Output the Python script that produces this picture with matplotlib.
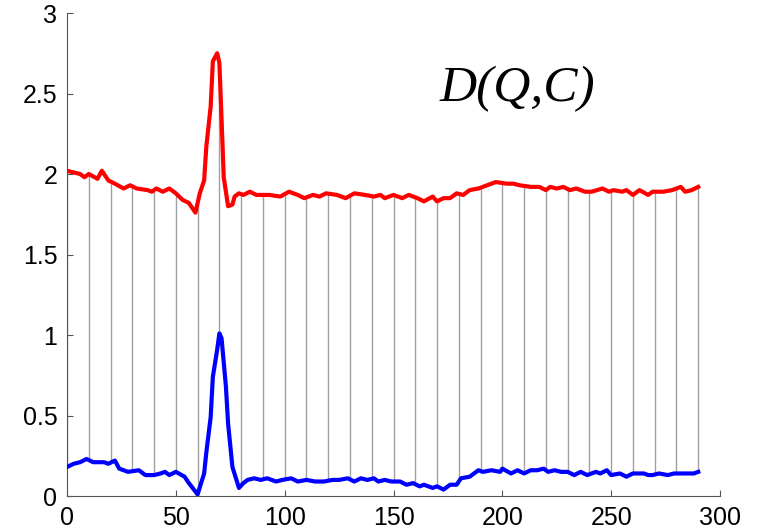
import matplotlib
matplotlib.use("Agg")
import matplotlib.pyplot as plt
import numpy as np

# upper series (red)
red_x = [0, 6, 8, 10, 14, 16, 19, 22, 26, 29, 32, 37, 39, 41, 44, 47, 50, 53, 56,
         59, 61, 63, 64, 66, 67, 69, 70, 71, 72, 74, 76, 77, 79, 81, 84, 87, 90,
         93, 98, 102, 106, 109, 113, 116, 119, 124, 128, 132, 137, 141, 144, 146,
         150, 154, 157, 161, 164, 168, 170, 173, 176, 179, 182, 185, 189, 193,
         197, 202, 205, 208, 213, 217, 220, 222, 225, 228, 231, 234, 238, 241,
         246, 249, 251, 255, 257, 260, 263, 267, 269, 274, 278, 282, 284, 287, 290]
red_y = [2.02, 2.00, 1.98, 2.00, 1.97, 2.02, 1.96, 1.94, 1.91, 1.93, 1.91, 1.90, 1.89,
         1.91, 1.89, 1.91, 1.88, 1.84, 1.82, 1.76, 1.88, 1.96, 2.17, 2.42, 2.70,
         2.75, 2.69, 2.34, 1.98, 1.80, 1.81, 1.86, 1.88, 1.87, 1.89, 1.87, 1.87,
         1.87, 1.86, 1.89, 1.87, 1.85, 1.87, 1.86, 1.88, 1.87, 1.85, 1.88, 1.87,
         1.86, 1.87, 1.85, 1.87, 1.85, 1.87, 1.85, 1.83, 1.86, 1.83, 1.85, 1.85,
         1.88, 1.87, 1.90, 1.91, 1.93, 1.95, 1.94, 1.94, 1.93, 1.92, 1.92, 1.90,
         1.92, 1.91, 1.92, 1.90, 1.91, 1.89, 1.89, 1.91, 1.89, 1.90, 1.89, 1.90,
         1.87, 1.90, 1.87, 1.89, 1.89, 1.90, 1.92, 1.89, 1.90, 1.92]

# lower series (blue)
blue_x = [0, 3, 6, 9, 12, 17, 19, 22, 24, 28, 33, 36, 40, 43, 45, 47, 50, 54, 56,
          60, 63, 64, 66, 67, 69, 70, 71, 73, 74, 76, 79, 81, 83, 86, 89, 92,
          96, 99, 103, 106, 110, 114, 118, 122, 125, 129, 132, 135, 138, 141, 143,
          146, 149, 153, 156, 159, 162, 164, 168, 170, 173, 176, 179, 181, 185,
          189, 191, 195, 199, 200, 204, 207, 210, 213, 216, 219, 221, 224, 227,
          230, 233, 236, 239, 243, 245, 248, 250, 254, 257, 260, 265, 267, 269,
          272, 276, 279, 282, 285, 288, 290]
blue_y = [0.18, 0.20, 0.21, 0.23, 0.21, 0.21, 0.20, 0.22, 0.17, 0.15, 0.16, 0.13,
          0.13, 0.14, 0.15, 0.13, 0.15, 0.12, 0.08, 0.01, 0.14, 0.27, 0.49, 0.74,
          0.91, 1.01, 0.98, 0.68, 0.45, 0.18, 0.05, 0.08, 0.10, 0.11, 0.10, 0.11,
          0.09, 0.10, 0.11, 0.09, 0.10, 0.09, 0.09, 0.10, 0.10, 0.11, 0.09, 0.11,
          0.10, 0.11, 0.09, 0.10, 0.09, 0.09, 0.07, 0.08, 0.06, 0.07, 0.05, 0.06,
          0.04, 0.07, 0.07, 0.11, 0.12, 0.16, 0.15, 0.16, 0.15, 0.17, 0.14, 0.16,
          0.14, 0.16, 0.16, 0.17, 0.15, 0.16, 0.15, 0.15, 0.13, 0.15, 0.13, 0.15,
          0.14, 0.16, 0.13, 0.14, 0.12, 0.14, 0.14, 0.13, 0.13, 0.14, 0.13, 0.14,
          0.14, 0.14, 0.14, 0.15]

link_x = np.arange(0, 291, 10)

fig = plt.figure(figsize=(7.59, 5.31), dpi=100)
ax = fig.add_axes([0.0883, 0.0659, 0.8603, 0.9096])

# thin gray links between the two series
lo = np.interp(link_x, blue_x, blue_y)
hi = np.interp(link_x, red_x, red_y)
ax.vlines(link_x, lo, hi, color='#a0a0a0', lw=1.0, zorder=1)

ax.plot(red_x, red_y, color='#ff0000', lw=3, zorder=3, solid_joinstyle='round')
ax.plot(blue_x, blue_y, color='#0000ff', lw=3, zorder=3, solid_joinstyle='round')

ax.text(207, 2.53, 'D(Q,C)', family='Liberation Serif', style='italic',
        fontsize=37, ha='center', va='center')

ax.set_xlim(0, 300)
ax.set_ylim(0, 3)
ax.set_xticks(np.arange(0, 301, 50))
ax.set_yticks(np.arange(0, 3.01, 0.5))
ax.set_yticklabels(['0', '0.5', '1', '1.5', '2', '2.5', '3'])
for s in ['top', 'right']:
    ax.spines[s].set_visible(False)
for s in ['left', 'bottom']:
    ax.spines[s].set_color('#555555')
ax.tick_params(direction='in', length=4, color='#555555', labelsize=18, pad=7)
for lab in ax.get_xticklabels() + ax.get_yticklabels():
    lab.set_family('Liberation Sans')

fig.savefig('out.png', dpi=100)
